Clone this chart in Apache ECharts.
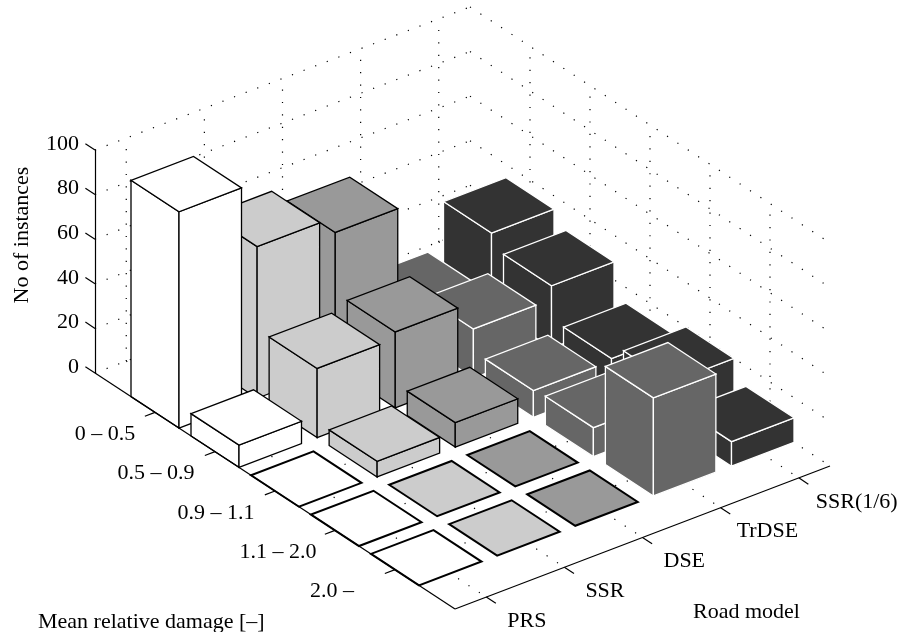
<!DOCTYPE html>
<html>
<head>
<meta charset="utf-8">
<style>html,body{margin:0;padding:0;background:#fff}#c{width:900px;height:632px}</style>
<script src="https://cdn.jsdelivr.net/npm/echarts@6/dist/echarts.min.js"></script>
</head>
<body>
<div id="c"></div>
<script>
// ---- data ----
var roadModels = ['PRS', 'SSR', 'DSE', 'TrDSE', 'SSR(1/6)'];
var damageBins = ['0 \u2013 0.5', '0.5 \u2013 0.9', '0.9 \u2013 1.1', '1.1 \u2013 2.0', '2.0 \u2013'];
var prs   = [97, 10, 0, 0, 0];
var ssr   = [68, 31, 7, 0, 0];
var dse   = [61, 34, 11, 0, 0];
var trdse = [14, 22, 12, 13, 44];
var ssr16 = [34, 28, 13, 20, 11];
var countTicks = [0, 20, 40, 60, 80, 100];
var faceColors = ['#ffffff', '#cccccc', '#999999', '#666666', '#333333'];
var edgeColors = ['#000000', '#000000', '#000000', '#ffffff', '#ffffff'];

// ---- projection: the hidden x axis and the y axis give road and count; damage shears the plane ----
var series3d = [prs, ssr, dse, trdse, ssr16];
var DX = 60, DY = 39.33, RISE = -29.8;
var X0 = 0.6, X1 = 5.4, D0 = 0, D1 = 6;
var FONT = '"Liberation Serif", "Times New Roman", serif';
var FS = 22;

function projector(api) {
  return function (x, d, z) {
    var c = api.coord([x, z]);
    return [c[0] + d * DX, c[1] + d * DY + (x - X0) * RISE];
  };
}

// painter's order: far bins first, far road models first
var barData = [];
damageBins.forEach(function (_, di) {
  for (var xi = roadModels.length - 1; xi >= 0; xi--) {
    barData.push([xi + 1, di + 1, series3d[xi][di]]);
  }
});

function line(a, b, style) {
  return { type: 'line', silent: true,
    shape: { x1: a[0], y1: a[1], x2: b[0], y2: b[1] }, style: style };
}

function renderGrid(params, api) {
  var P = projector(api), kids = [];
  var dot = { stroke: '#000', lineWidth: 1.2, lineDash: [1.2, 11.2], fill: null };
  countTicks.forEach(function (z) {
    kids.push(line(P(X0, D0, z), P(X1, D0, z), dot));
    kids.push(line(P(X1, D0, z), P(X1, D1, z), dot));
  });
  roadModels.forEach(function (_, i) {
    var x = i + 1;
    kids.push(line(P(x, D0, 0), P(x, D0, 100), dot));
    kids.push(line(P(x, D0, 0), P(x, D1, 0), dot));
  });
  damageBins.forEach(function (_, i) {
    var d = i + 1;
    kids.push(line(P(X1, d, 0), P(X1, d, 100), dot));
    kids.push(line(P(X0, d, 0), P(X1, d, 0), dot));
  });
  return { type: 'group', children: kids };
}

function renderBar(params, api) {
  var P = projector(api);
  var x = api.value(0), d = api.value(1), z = api.value(2);
  var xi = x - 1, w = 0.4;
  var style = { fill: faceColors[xi], stroke: edgeColors[xi],
    lineWidth: z === 0 ? 2 : 1.3, lineJoin: 'miter' };
  function poly(pts) { return { type: 'polygon', silent: true, shape: { points: pts }, style: style }; }
  var a = x - w, b = x + w, e = d - w, f = d + w;
  var kids = [];
  if (z > 0) {
    // face toward the damage axis side, then face toward the road axis side
    kids.push(poly([P(a, e, 0), P(a, f, 0), P(a, f, z), P(a, e, z)]));
    kids.push(poly([P(a, f, 0), P(b, f, 0), P(b, f, z), P(a, f, z)]));
  }
  kids.push(poly([P(a, e, z), P(a, f, z), P(b, f, z), P(b, e, z)]));
  return { type: 'group', children: kids };
}

function renderAxes(params, api) {
  var P = projector(api), kids = [];
  var ink = { stroke: '#000', lineWidth: 1.2, fill: null };
  var label = function (t, p, align) {
    return { type: 'text', silent: true, x: p[0], y: p[1],
      style: { text: t, fill: '#000', font: FS + 'px ' + FONT, textAlign: align, textVerticalAlign: 'middle' } };
  };
  kids.push(line(P(X0, D0, 0), P(X0, D1, 0), ink));
  kids.push(line(P(X0, D1, 0), P(X1, D1, 0), ink));
  countTicks.forEach(function (z) {
    kids.push(line(P(X0, D0, z), P(X0, D0 - 0.16, z), ink));
  });
  var damageShift = [-50, -59, -59, -57, -63];
  damageBins.forEach(function (t, i) {
    var a = P(X0, i + 1, 0);
    kids.push(line(a, P(X0 - 0.13, i + 1, 0), ink));
    kids.push(label(t, [a[0] + damageShift[i], a[1] + 22], 'center'));
  });
  var roadShift = [21, 21, 21, 16, 17];
  roadModels.forEach(function (t, i) {
    var a = P(i + 1, D1, 0);
    kids.push(line(a, P(i + 1, D1 + 0.16, 0), ink));
    kids.push(label(t, [a[0] + roadShift[i], a[1] + 24], 'left'));
  });
  return { type: 'group', children: kids };
}

var chart = echarts.init(document.getElementById('c'), null, { renderer: 'canvas' });
chart.setOption({
  animation: false,
  backgroundColor: '#fff',
  grid: { left: 95, width: 375, top: 150, height: 223, containLabel: false },
  xAxis: { type: 'value', min: X0, max: X1, show: false },
  yAxis: {
    type: 'value', min: 0, max: 100, interval: 20,
    axisLine: { show: true, onZero: false, lineStyle: { color: '#000', width: 1.2 } },
    axisTick: { show: false },
    splitLine: { show: false },
    axisLabel: { color: '#000', fontFamily: FONT, fontSize: FS, margin: 16, verticalAlign: 'bottom', lineHeight: 12, showMinLabel: true, showMaxLabel: true }
  },
  graphic: [
    { type: 'text', silent: true, x: 22, y: 235, rotation: Math.PI / 2,
      style: { text: 'No of instances', fill: '#000', font: FS + 'px ' + FONT, textAlign: 'center', textVerticalAlign: 'middle' } },
    { type: 'text', silent: true, x: 38, y: 622,
      style: { text: 'Mean relative damage [\u2013]', fill: '#000', font: FS + 'px ' + FONT, textAlign: 'left', textVerticalAlign: 'middle' } },
    { type: 'text', silent: true, x: 693, y: 612,
      style: { text: 'Road model', fill: '#000', font: FS + 'px ' + FONT, textAlign: 'left', textVerticalAlign: 'middle' } }
  ],
  series: [
    { type: 'custom', name: 'grid', z: 1, clip: false, silent: true, coordinateSystem: 'cartesian2d',
      data: [[1, 0]], renderItem: renderGrid, encode: { x: 0, y: 1 } },
    { type: 'custom', name: 'bars', z: 2, clip: false, silent: true, coordinateSystem: 'cartesian2d',
      data: barData, renderItem: renderBar, encode: { x: 0, y: 2 } },
    { type: 'custom', name: 'axes', z: 3, clip: false, silent: true, coordinateSystem: 'cartesian2d',
      data: [[1, 0]], renderItem: renderAxes, encode: { x: 0, y: 1 } }
  ]
});
</script>
</body>
</html>
